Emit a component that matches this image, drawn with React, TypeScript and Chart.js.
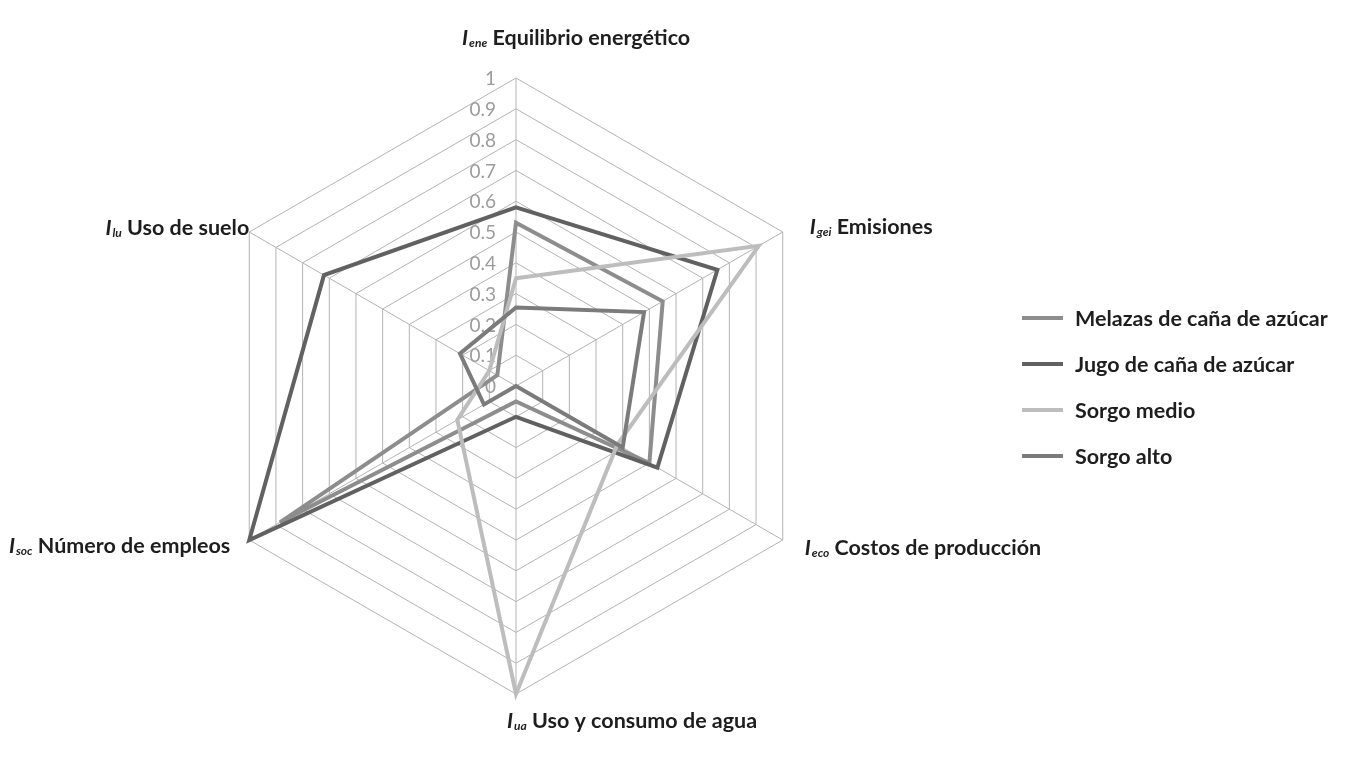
import React, { useEffect, useRef } from "react";
import { Chart, registerables } from "chart.js";

Chart.register(...registerables);

// ---- data ----
const categories = [
  "Equilibrio energético",
  "Emisiones",
  "Costos de producción",
  "Uso y consumo de agua",
  "Número de empleos",
  "Uso de suelo",
];
const indexSubs = ["ene", "gei", "eco", "ua", "soc", "lu"];
const seriesNames = [
  "Melazas de caña de azúcar",
  "Jugo de caña de azúcar",
  "Sorgo medio",
  "Sorgo alto",
];
const melazas = [0.53, 0.55, 0.5, 0.05, 0.885, 0.07];
const jugo = [0.58, 0.755, 0.53, 0.1, 1.0, 0.72];
const sorgoMedio = [0.35, 0.91, 0.38, 1.0, 0.22, 0.1];
const sorgoAlto = [0.255, 0.48, 0.4, 0.0, 0.12, 0.21];
const tickLabels = ["0", "0.1", "0.2", "0.3", "0.4", "0.5", "0.6", "0.7", "0.8", "0.9", "1"];

// ---- styles ----
const seriesColors = ["#8d8d8d", "#616161", "#bdbdbd", "#7b7b7b"];
const FONT = "Lato, 'Open Sans', sans-serif";
const gridColor = "#b3b3b3";
const LABEL_SIZE = 21.5;

// label layout relative to outer vertex: [dx, dyBaseline, align]
const labelLayout: [number, number, "left" | "right"][] = [
  [-54, -33, "left"],
  [27, 2, "left"],
  [22, 15, "left"],
  [-9, 34, "left"],
  [-19, 13, "right"],
  [0, 3, "right"],
];

function drawIndexLabel(
  ctx: CanvasRenderingContext2D,
  x: number,
  y: number,
  sub: string,
  text: string,
  align: "left" | "right"
) {
  const size = LABEL_SIZE;
  const subSize = 12;
  ctx.textBaseline = "alphabetic";
  ctx.textAlign = "left";
  ctx.font = `italic bold ${size}px ${FONT}`;
  const wI = ctx.measureText("I").width;
  ctx.font = `italic bold ${subSize}px ${FONT}`;
  const wS = ctx.measureText(sub).width;
  ctx.font = `bold ${size}px ${FONT}`;
  const wT = ctx.measureText(" " + text).width;
  const total = wI + wS + 1 + wT;
  let sx = align === "right" ? x - total : x;
  ctx.fillStyle = "#1e1e1e";
  ctx.font = `italic bold ${size}px ${FONT}`;
  ctx.fillText("I", sx, y);
  sx += wI + 1;
  ctx.font = `italic bold ${subSize}px ${FONT}`;
  ctx.fillText(sub, sx, y + 2);
  sx += wS;
  ctx.font = `bold ${size}px ${FONT}`;
  ctx.fillText(" " + text, sx, y);
}

const customPlugin = {
  id: "customRadarDecor",
  beforeDatasetsDraw(chart: any) {
    const ctx: CanvasRenderingContext2D = chart.ctx;
    const scale = chart.scales.r;
    ctx.save();
    ctx.font = `19px ${FONT}`;
    ctx.fillStyle = "#9c9c9c";
    ctx.textAlign = "right";
    ctx.textBaseline = "middle";
    tickLabels.forEach((t) => {
      const v = parseFloat(t);
      const d = scale.getDistanceFromCenterForValue(v);
      ctx.fillText(t, scale.xCenter - 20, scale.yCenter - d + 1);
    });
    ctx.restore();
  },
  afterDraw(chart: any) {
    const ctx: CanvasRenderingContext2D = chart.ctx;
    const scale = chart.scales.r;
    ctx.save();
    categories.forEach((c, i) => {
      const p = scale.getPointPosition(i, scale.drawingArea);
      const [dx, dy, align] = labelLayout[i];
      drawIndexLabel(ctx, p.x + dx, p.y + dy, indexSubs[i], c, align);
    });
    // legend
    const lx = 1022;
    const ly = 318;
    const step = 46;
    seriesNames.forEach((n, i) => {
      const y = ly + i * step;
      ctx.strokeStyle = seriesColors[i];
      ctx.lineWidth = 4;
      ctx.beginPath();
      ctx.moveTo(lx, y);
      ctx.lineTo(lx + 41, y);
      ctx.stroke();
      ctx.fillStyle = "#1e1e1e";
      ctx.font = `bold ${LABEL_SIZE}px ${FONT}`;
      ctx.textAlign = "left";
      ctx.textBaseline = "middle";
      ctx.fillText(n, lx + 53, y + 1);
    });
    ctx.restore();
  },
};

export default function App() {
  const ref = useRef<HTMLCanvasElement | null>(null);
  useEffect(() => {
    if (!ref.current) return;
    const series = [melazas, jugo, sorgoMedio, sorgoAlto];
    const chart = new Chart(ref.current, {
      type: "radar",
      data: {
        labels: categories,
        datasets: series.map((d, i) => ({
          label: seriesNames[i],
          data: d,
          borderColor: seriesColors[i],
          backgroundColor: "transparent",
          borderWidth: 4,
          pointRadius: 0,
          fill: false,
          tension: 0,
          borderJoinStyle: "miter" as const,
          order: series.length - i,
        })),
      },
      options: {
        animation: false,
        responsive: false,
        maintainAspectRatio: false,
        layout: { padding: { left: 208, top: 78, right: 527, bottom: 74 } },
        plugins: {
          legend: { display: false },
          tooltip: { enabled: false },
          title: { display: false },
        },
        scales: {
          r: {
            min: 0,
            max: 1,
            ticks: { display: false, stepSize: 0.1 },
            grid: { color: gridColor, lineWidth: 1 },
            angleLines: { color: gridColor, lineWidth: 1 },
            pointLabels: { display: false },
          },
        },
      },
      plugins: [customPlugin],
    });
    return () => chart.destroy();
  }, []);
  return (
    <div style={{ position: "fixed", left: 0, top: 0, width: 1352, height: 769, background: "#fff" }}>
      <canvas ref={ref} width={1352} height={769} style={{ display: "block" }} />
    </div>
  );
}
